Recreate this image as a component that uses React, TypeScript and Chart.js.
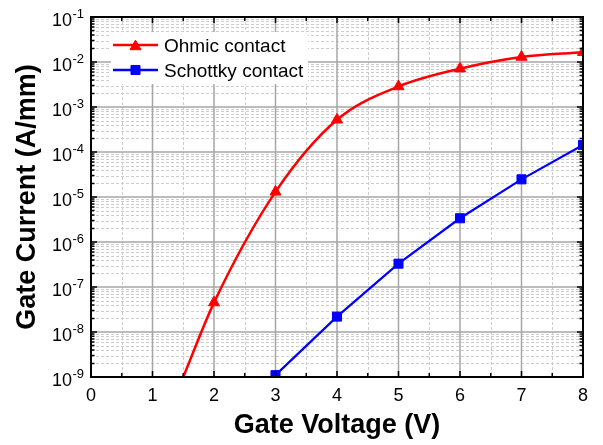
import React, { useEffect, useRef } from 'react';
import { Chart, registerables } from 'chart.js';

Chart.register(...registerables);

// ---- data ----
const ohmicVoltage = [1.5, 2, 3, 4, 5, 6, 7, 8];
const ohmicCurrent = [1.0e-9, 4.5e-8, 1.3e-5, 5.2e-4, 2.85e-3, 7.1e-3, 1.29e-2, 1.65e-2];
const ohmicMarker = [false, true, true, true, true, true, true, true];
const schottkyVoltage = [3, 4, 5, 6, 7, 8];
const schottkyCurrent = [1.1e-9, 2.2e-8, 3.3e-7, 3.37e-6, 2.47e-5, 1.43e-4];
const seriesLabels = ['Ohmic contact', 'Schottky contact'];
const xTickValues = [0, 1, 2, 3, 4, 5, 6, 7, 8];
const yExponents = [-9, -8, -7, -6, -5, -4, -3, -2, -1];
const xTitle = 'Gate Voltage (V)';
const yTitle = 'Gate Current (A/mm)';

const RED = '#ff0000';
const BLUE = '#0000ff';
const FONT = '"Liberation Sans", Arial, Helvetica, sans-serif';
const MARK_R = 6.4;

function drawTriangle(ctx: CanvasRenderingContext2D, x: number, y: number, r: number) {
  ctx.beginPath();
  let rad = 0;
  ctx.moveTo(x + Math.sin(rad) * r, y - Math.cos(rad) * r);
  rad += (2 * Math.PI) / 3;
  ctx.lineTo(x + Math.sin(rad) * r, y - Math.cos(rad) * r);
  rad += (2 * Math.PI) / 3;
  ctx.lineTo(x + Math.sin(rad) * r, y - Math.cos(rad) * r);
  ctx.closePath();
  ctx.fill();
  ctx.stroke();
}

function drawSquare(ctx: CanvasRenderingContext2D, x: number, y: number, r: number) {
  const s = Math.SQRT1_2 * r;
  ctx.beginPath();
  ctx.rect(x - s, y - s, 2 * s, 2 * s);
  ctx.fill();
  ctx.stroke();
}

const originAxes = {
  id: 'originAxes',
  beforeDatasetsDraw(chart: any) {
    const { ctx, chartArea: a, scales } = chart;
    const x = scales.x;
    const y = scales.y;
    ctx.save();
    // minor grid (dashed)
    ctx.lineWidth = 1;
    ctx.strokeStyle = '#cdcdcd';
    ctx.setLineDash([3, 2]);
    ctx.beginPath();
    for (let i = 0; i < xTickValues.length - 1; i++) {
      const px = Math.round(x.getPixelForValue(xTickValues[i] + 0.5)) + 0.5;
      ctx.moveTo(px, a.top);
      ctx.lineTo(px, a.bottom);
    }
    for (let i = 0; i < yExponents.length - 1; i++) {
      for (let m = 2; m <= 9; m++) {
        const py = Math.round(y.getPixelForValue(m * Math.pow(10, yExponents[i]))) + 0.5;
        ctx.moveTo(a.left, py);
        ctx.lineTo(a.right, py);
      }
    }
    ctx.stroke();
    // major grid (solid)
    ctx.setLineDash([]);
    ctx.strokeStyle = '#a6a6a6';
    ctx.lineWidth = 1.5;
    ctx.beginPath();
    for (let i = 1; i < xTickValues.length - 1; i++) {
      const px = x.getPixelForValue(xTickValues[i]);
      ctx.moveTo(px, a.top);
      ctx.lineTo(px, a.bottom);
    }
    for (let i = 1; i < yExponents.length - 1; i++) {
      const py = y.getPixelForValue(Math.pow(10, yExponents[i]));
      ctx.moveTo(a.left, py);
      ctx.lineTo(a.right, py);
    }
    ctx.stroke();
    ctx.restore();
  },
  afterDatasetsDraw(chart: any) {
    const { ctx, chartArea: a, scales } = chart;
    const x = scales.x;
    const y = scales.y;
    ctx.save();
    // tick marks (inward, on all four sides)
    ctx.strokeStyle = '#000';
    ctx.lineWidth = 1.5;
    ctx.beginPath();
    for (let i = 0; i < xTickValues.length; i++) {
      const v = xTickValues[i];
      const px = x.getPixelForValue(v);
      ctx.moveTo(px, a.bottom);
      ctx.lineTo(px, a.bottom - 6);
      ctx.moveTo(px, a.top);
      ctx.lineTo(px, a.top + 6);
      if (i < xTickValues.length - 1) {
        const ph = x.getPixelForValue(v + 0.5);
        ctx.moveTo(ph, a.bottom);
        ctx.lineTo(ph, a.bottom - 4);
        ctx.moveTo(ph, a.top);
        ctx.lineTo(ph, a.top + 4);
      }
    }
    for (let i = 0; i < yExponents.length; i++) {
      const py = y.getPixelForValue(Math.pow(10, yExponents[i]));
      ctx.moveTo(a.left, py);
      ctx.lineTo(a.left + 6, py);
      ctx.moveTo(a.right, py);
      ctx.lineTo(a.right - 6, py);
      if (i < yExponents.length - 1) {
        for (let m = 2; m <= 9; m++) {
          const pm = y.getPixelForValue(m * Math.pow(10, yExponents[i]));
          ctx.moveTo(a.left, pm);
          ctx.lineTo(a.left + 3.5, pm);
          ctx.moveTo(a.right, pm);
          ctx.lineTo(a.right - 3.5, pm);
        }
      }
    }
    ctx.stroke();
    // frame
    ctx.lineWidth = 2;
    ctx.strokeRect(a.left, a.top, a.right - a.left, a.bottom - a.top);

    // x tick labels
    ctx.fillStyle = '#000';
    ctx.font = `18px ${FONT}`;
    ctx.textAlign = 'center';
    ctx.textBaseline = 'alphabetic';
    for (const v of xTickValues) {
      ctx.fillText(String(v), x.getPixelForValue(v), a.bottom + 23.5);
    }
    // y tick labels: 10^n
    for (const e of yExponents) {
      const py = y.getPixelForValue(Math.pow(10, e));
      const xr = a.left - 19;
      ctx.font = `18px ${FONT}`;
      ctx.textAlign = 'right';
      ctx.fillText('10', xr, py + 8.5);
      ctx.font = `13px ${FONT}`;
      ctx.textAlign = 'left';
      ctx.fillText(String(e), xr + 0.5, py + 0.5);
    }
    // axis titles
    ctx.font = `bold 27px ${FONT}`;
    ctx.textAlign = 'center';
    ctx.fillText(xTitle, (a.left + a.right) / 2, 432.5);
    ctx.save();
    ctx.translate(35, (a.top + a.bottom) / 2);
    ctx.rotate(-Math.PI / 2);
    ctx.fillText(yTitle, 0, 0);
    ctx.restore();

    // legend
    ctx.fillStyle = '#fff';
    ctx.fillRect(111, 32, 197, 52);
    const rows = [
      { label: seriesLabels[0], color: RED, y: 45, shape: 'tri' },
      { label: seriesLabels[1], color: BLUE, y: 70, shape: 'sq' },
    ];
    for (const r of rows) {
      ctx.strokeStyle = r.color;
      ctx.fillStyle = r.color;
      ctx.lineWidth = 2.5;
      ctx.beginPath();
      ctx.moveTo(113, r.y);
      ctx.lineTo(158, r.y);
      ctx.stroke();
      ctx.lineWidth = 1;
      if (r.shape === 'tri') drawTriangle(ctx, 135.5, r.y + 1.5, MARK_R);
      else drawSquare(ctx, 135.5, r.y, MARK_R);
      ctx.fillStyle = '#000';
      ctx.font = `19px ${FONT}`;
      ctx.textAlign = 'left';
      ctx.textBaseline = 'alphabetic';
      ctx.fillText(r.label, 164, r.y + 6.7);
    }
    ctx.restore();
  },
};

export default function App() {
  const ref = useRef<HTMLCanvasElement>(null);
  useEffect(() => {
    document.body.style.margin = '0';
    const canvas = ref.current;
    if (!canvas) return;
    const chart = new Chart(canvas, {
      type: 'line',
      data: {
        datasets: [
          {
            label: seriesLabels[0],
            data: ohmicVoltage.map((v, i) => ({ x: v, y: ohmicCurrent[i] })),
            borderColor: RED,
            backgroundColor: RED,
            borderWidth: 2.5,
            pointStyle: 'triangle',
            pointRadius: ohmicMarker.map((m) => (m ? MARK_R : 0)),
            pointBorderWidth: 1,
            cubicInterpolationMode: 'monotone',
            clip: 0,
          },
          {
            label: seriesLabels[1],
            data: schottkyVoltage.map((v, i) => ({ x: v, y: schottkyCurrent[i] })),
            borderColor: BLUE,
            backgroundColor: BLUE,
            borderWidth: 2.2,
            pointStyle: 'rect',
            pointRadius: MARK_R,
            pointBorderWidth: 1,
            tension: 0,
            clip: 0,
          },
        ],
      },
      options: {
        responsive: false,
        animation: false,
        devicePixelRatio: 1,
        layout: { padding: { top: 17, right: 20, left: 0, bottom: 0 } },
        plugins: { legend: { display: false }, tooltip: { enabled: false } },
        scales: {
          x: {
            type: 'linear',
            min: 0,
            max: 8,
            ticks: { display: false },
            grid: { display: false },
            border: { display: false },
            afterFit: (s: any) => {
              s.height = 68;
            },
          },
          y: {
            type: 'logarithmic',
            min: 1e-9,
            max: 1e-1,
            ticks: { display: false },
            grid: { display: false },
            border: { display: false },
            afterFit: (s: any) => {
              s.width = 91;
            },
          },
        },
      } as any,
      plugins: [originAxes],
    });
    return () => chart.destroy();
  }, []);
  return (
    <div style={{ width: 603, height: 445, overflow: 'hidden', background: '#fff' }}>
      <canvas ref={ref} width={603} height={445} style={{ display: 'block' }} />
    </div>
  );
}
